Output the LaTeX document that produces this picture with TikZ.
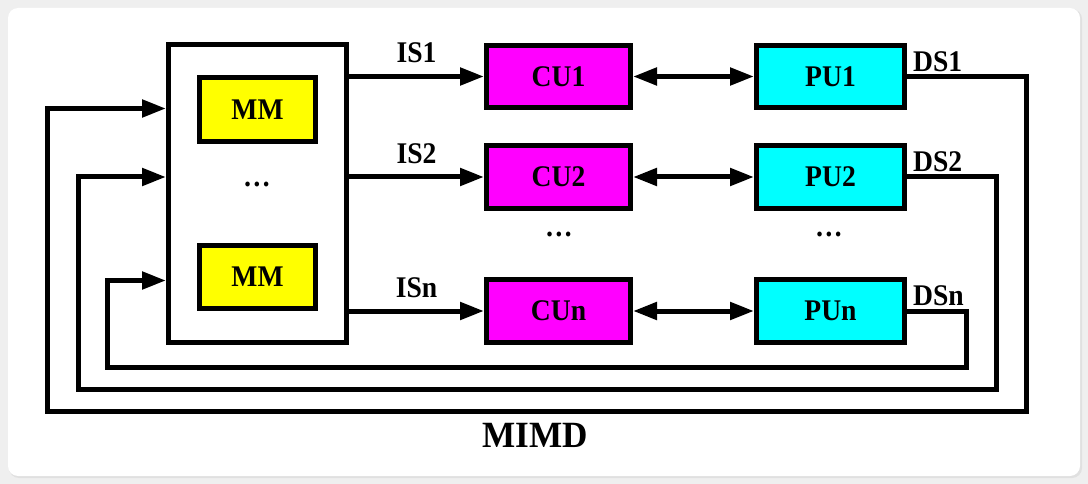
\documentclass[tikz,border=0pt]{standalone}
\usepackage{fontspec}
\usepackage{graphicx}
\setmainfont{Liberation Serif}
\usetikzlibrary{arrows.meta}
\definecolor{bggray}{HTML}{EFEFEF}
\definecolor{mmyellow}{HTML}{FFFF00}
\definecolor{cumag}{HTML}{FF00FF}
\definecolor{pucyan}{HTML}{00FFFF}
\newcommand{\sx}[1]{\scalebox{0.92}[1]{#1}}
\tikzset{
  box/.style={draw=black, line width=5pt, rectangle, inner sep=0pt, font=\fontsize{30}{33}\selectfont\bfseries},
  lbl/.style={font=\fontsize{30}{33}\selectfont\bfseries, inner sep=0pt},
  arr/.style={line width=5pt, -{Triangle[length=24pt,width=17pt]}},
  biarr/.style={line width=5pt, {Triangle[length=24pt,width=17pt]}-{Triangle[length=24pt,width=17pt]}},
}
\begin{document}
\begin{tikzpicture}[x=1pt,y=-1pt]
\useasboundingbox (0,0) rectangle (1088,484);
\fill[bggray] (0,0) rectangle (1088,484);
\fill[black!12, rounded corners=10pt] (9,9) rectangle (1082,478);
\fill[white, rounded corners=10pt] (8,8) rectangle (1080,476);

% memory block
\node[box, minimum width=178pt, minimum height=298pt] (mem) at (257.5,193.5) {};
\node[box, fill=mmyellow, minimum width=116pt, minimum height=64pt] (mm1) at (257.5,109.5) {\sx{MM}};
\node[box, fill=mmyellow, minimum width=116pt, minimum height=63pt] (mm2) at (257.5,277) {\sx{MM}};
\node[lbl] (memdots) at (257,184) {\sx{\dots}};

% CUs
\node[box, fill=cumag, minimum width=144pt, minimum height=62pt] (cu1) at (558.5,76.5) {\sx{CU1}};
\node[box, fill=cumag, minimum width=144pt, minimum height=63pt] (cu2) at (558.5,177) {\sx{CU2}};
\node[box, fill=cumag, minimum width=144pt, minimum height=63pt] (cun) at (558.5,311) {\sx{CUn}};
\node[lbl] (cudots) at (559,234) {\sx{\dots}};

% PUs
\node[box, fill=pucyan, minimum width=148pt, minimum height=62pt] (pu1) at (830.5,76.5) {\sx{PU1}};
\node[box, fill=pucyan, minimum width=148pt, minimum height=63pt] (pu2) at (830.5,177) {\sx{PU2}};
\node[box, fill=pucyan, minimum width=148pt, minimum height=63pt] (pun) at (830.5,311) {\sx{PUn}};
\node[lbl] (pudots) at (829,234) {\sx{\dots}};

% instruction streams
\draw[arr] (mem.east |- cu1) -- (cu1.west) node[lbl, midway, above=11pt] (is1) {\sx{IS1}};
\draw[arr] (mem.east |- cu2) -- (cu2.west) node[lbl, midway, above=11pt] (is2) {\sx{IS2}};
\draw[arr] (mem.east |- cun) -- (cun.west) node[lbl, midway, above=11pt] (isn) {\sx{ISn}};

% CU <-> PU
\draw[biarr] (cu1.east) -- (pu1.west);
\draw[biarr] (cu2.east) -- (pu2.west);
\draw[biarr] (cun.east) -- (pun.west);

% data stream labels
\node[lbl, anchor=south west] (ds1) at ([xshift=6pt,yshift=5pt]pu1.east) {\sx{DS1}};
\node[lbl, anchor=south west] (ds2) at ([xshift=6pt,yshift=5pt]pu2.east) {\sx{DS2}};
\node[lbl, anchor=south west] (dsn) at ([xshift=6pt,yshift=5pt]pun.east) {\sx{DSn}};

% feedback corner coordinates
\coordinate (r1) at (1026,411.5);
\coordinate (l1) at (47.5,411.5);
\coordinate (a1) at (47.5,108.5);
\coordinate (r2) at (996.5,389.5);
\coordinate (l2) at (78,389.5);
\coordinate (a2) at (78,177);
\coordinate (r3) at (966,367);
\coordinate (l3) at (107.5,367);
\coordinate (a3) at (107.5,280.5);

\draw[arr, line join=miter] (pu1.east) -| (r1) -- (l1) -- (a1) -- (mem.west |- a1);
\draw[arr, line join=miter] (pu2.east) -| (r2) -- (l2) -- (a2) -- (mem.west |- a2);
\draw[arr, line join=miter] (pun.east) -| (r3) -- (l3) -- (a3) -- (mem.west |- a3);

% title
\node[font=\fontsize{37}{40}\selectfont\bfseries, inner sep=0pt] (title) at (535,435) {\scalebox{0.95}[1]{MIMD}};
\end{tikzpicture}
\end{document}
